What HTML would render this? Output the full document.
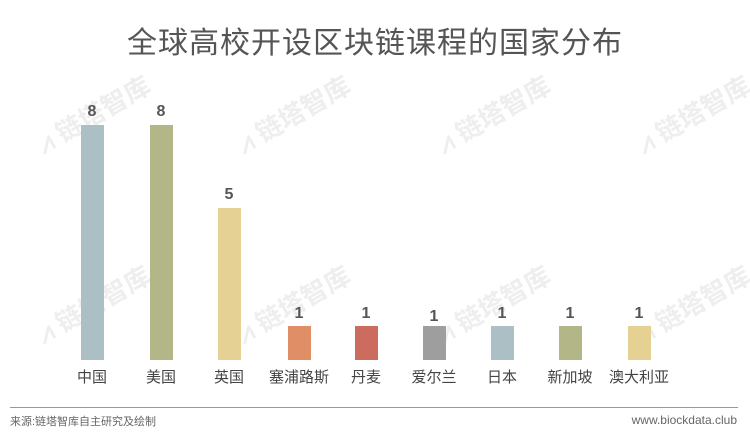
<!DOCTYPE html>
<html><head><meta charset="utf-8"><style>
body{margin:0;width:750px;height:441px;background:#fff;position:relative;overflow:hidden;font-family:"Liberation Sans","Noto Sans CJK SC",sans-serif}
.t{position:absolute;left:0;width:750px;top:18px;text-align:center;font-size:30px;color:#555;letter-spacing:1px}
.b{position:absolute;width:23px}
.v{position:absolute;width:40px;text-align:center;font-size:16px;color:#555;font-weight:bold}
.l{position:absolute;width:90px;text-align:center;font-size:15px;color:#444;top:366px}
.wm{position:absolute;font-size:26px;color:#eee;transform:rotate(-30deg);font-weight:bold;white-space:nowrap}
</style></head><body>
<div class="wm" style="left:30px;top:95px">⩘ 链塔智库</div>
<div class="wm" style="left:230px;top:95px">⩘ 链塔智库</div>
<div class="wm" style="left:430px;top:95px">⩘ 链塔智库</div>
<div class="wm" style="left:630px;top:95px">⩘ 链塔智库</div>
<div class="wm" style="left:30px;top:285px">⩘ 链塔智库</div>
<div class="wm" style="left:230px;top:285px">⩘ 链塔智库</div>
<div class="wm" style="left:430px;top:285px">⩘ 链塔智库</div>
<div class="wm" style="left:630px;top:285px">⩘ 链塔智库</div>
<div class="t">全球高校开设区块链课程的国家分布</div>
<div class="b" style="left:81px;top:125px;height:235px;background:#abbfc4"></div>
<div class="b" style="left:150px;top:125px;height:235px;background:#b3b686"></div>
<div class="b" style="left:218px;top:208px;height:152px;background:#e6d195"></div>
<div class="b" style="left:288px;top:326px;height:34px;background:#e08e66"></div>
<div class="b" style="left:355px;top:326px;height:34px;background:#cc6c5e"></div>
<div class="b" style="left:423px;top:326px;height:34px;background:#9e9e9e"></div>
<div class="b" style="left:491px;top:326px;height:34px;background:#abbfc4"></div>
<div class="b" style="left:559px;top:326px;height:34px;background:#b3b686"></div>
<div class="b" style="left:628px;top:326px;height:34px;background:#e6d195"></div>
<div class="v" style="left:72px;top:103px">8</div>
<div class="v" style="left:141px;top:103px">8</div>
<div class="v" style="left:209px;top:186px">5</div>
<div class="v" style="left:279px;top:305px">1</div>
<div class="v" style="left:346px;top:305px">1</div>
<div class="v" style="left:414px;top:308px">1</div>
<div class="v" style="left:482px;top:305px">1</div>
<div class="v" style="left:550px;top:305px">1</div>
<div class="v" style="left:619px;top:305px">1</div>
<div class="l" style="left:47px">中国</div>
<div class="l" style="left:116px">美国</div>
<div class="l" style="left:184px">英国</div>
<div class="l" style="left:254px">塞浦路斯</div>
<div class="l" style="left:321px">丹麦</div>
<div class="l" style="left:389px">爱尔兰</div>
<div class="l" style="left:457px">日本</div>
<div class="l" style="left:525px">新加坡</div>
<div class="l" style="left:594px">澳大利亚</div>
<div style="position:absolute;left:10px;top:407px;width:728px;height:1px;background:#999"></div>
<div style="position:absolute;left:10px;top:413px;font-size:11px;color:#666">来源:链塔智库自主研究及绘制</div>
<div style="position:absolute;right:13px;top:413px;font-size:12px;color:#666">www.biockdata.club</div>
</body></html>
